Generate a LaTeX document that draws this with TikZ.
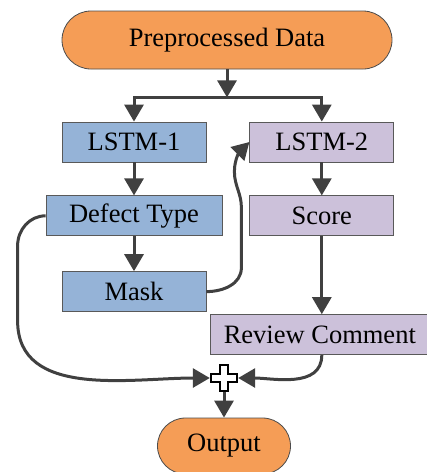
\documentclass[tikz,border=0pt]{standalone}
\usepackage{fontspec}
\setmainfont{Liberation Serif}
\usetikzlibrary{arrows.meta,positioning}
\definecolor{dataorange}{HTML}{F59D56}
\definecolor{lstmblue}{HTML}{95B3D7}
\definecolor{lstmpurple}{HTML}{CCC1DA}
\definecolor{arrowgray}{HTML}{404040}

\begin{document}
\begin{tikzpicture}[
    x=1pt, y=-1pt,
    every node/.style={font=\fontsize{26.5}{30}\selectfont},
    terminal/.style={draw=black!70, line width=0.8pt, fill=dataorange, align=center, inner sep=0pt},
    blockA/.style={draw=black!65, line width=0.8pt, fill=lstmblue, minimum height=40pt, minimum width=144pt, inner sep=0pt},
    blockB/.style={draw=black!65, line width=0.8pt, fill=lstmpurple, minimum height=40pt, minimum width=144pt, inner sep=0pt},
    flow/.style={-{Triangle[length=17pt, width=19pt]}, line width=3pt, draw=arrowgray, color=arrowgray}
]
\useasboundingbox (0,0) rectangle (427,472);
\node[terminal, minimum width=330pt, minimum height=58pt, rounded corners=29pt] (data) at (227,40) {Preprocessed Data};
\node[blockA] (lstm1) at (134,142) {LSTM-1};
\node[blockB, right=43pt of lstm1] (lstm2) {LSTM-2};
\node[blockA, minimum width=176pt, below=33pt of lstm1] (defect) {Defect Type};
\node[blockA, below=35pt of defect] (mask) {Mask};
\node[blockB, below=33pt of lstm2] (score) {Score};
\node[blockB, minimum width=219pt, below=78pt of score, xshift=-2pt] (review) {Review Comment};
\node[minimum size=28pt, inner sep=0pt] (plus) at (224,378) {};
\node[terminal, minimum width=133pt, minimum height=56pt, rounded corners=28pt] (output) at (224,446) {Output};
% plus sign
\draw[shift={(plus.center)}, fill=white, line width=1.6pt, line join=miter]
    (-4,-13) -- (4,-13) -- (4,-4) -- (13,-4) -- (13,4) -- (4,4) -- (4,13)
    -- (-4,13) -- (-4,4) -- (-13,4) -- (-13,-4) -- (-4,-4) -- cycle;
% connectors
\draw[flow] (data.south) -- ++(0,28) coordinate (split);
\draw[flow] (split) -| (lstm1.north);
\draw[flow] (split) -| (lstm2.north);
\draw[flow] (lstm1) -- (defect);
\draw[flow] (defect) -- (mask);
\draw[flow] (lstm2) -- (score);
\draw[flow] (score.south) -- (score.south |- review.north);
\draw[flow] (mask.east) to[out=0, in=-90] ++(35,-24) -- ++(0,-60)
    to[out=90, in=-90] ++(-7,-36) to[out=90, in=225] (lstm2.west);
\draw[flow] (defect.west) to[out=180, in=90] ++(-28,30) -- ++(0,75)
    to[out=-90, in=180] (plus.west);
\draw[flow] (review.south -| score.south) to[out=-90, in=0] (plus.east);
\draw[flow] (plus.south) -- (output.north);
\end{tikzpicture}
\end{document}
